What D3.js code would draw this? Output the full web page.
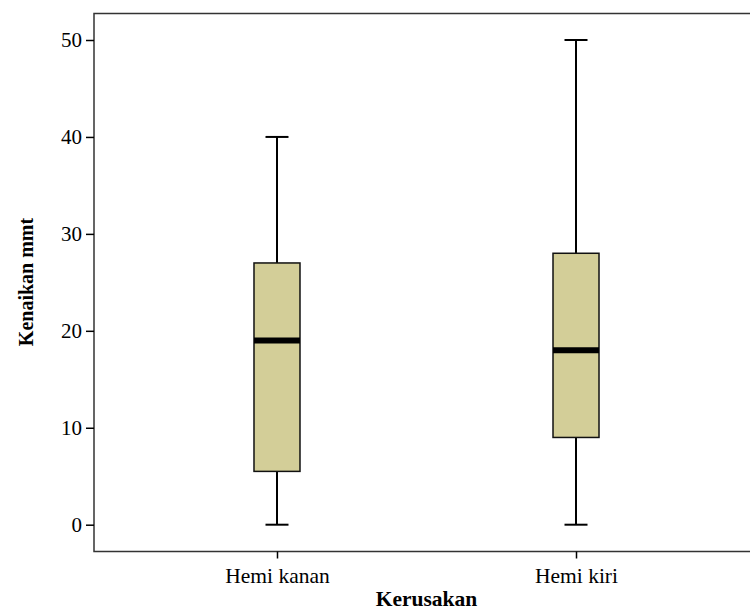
<!DOCTYPE html>
<html><head><meta charset="utf-8">
<script src="https://cdn.jsdelivr.net/npm/d3@7"></script>
<style>body{margin:0;background:#fff}svg{display:block}text{font-family:"Liberation Serif","Times New Roman",serif;fill:#000}</style>
</head><body>
<svg id="c" width="750" height="611"></svg>
<script>
const categories = ["Hemi kanan", "Hemi kiri"];
const mins = [0, 0];
const q1s = [5.5, 9];
const medians = [19, 18];
const q3s = [27, 28];
const maxs = [40, 50];
const yTicks = [0, 10, 20, 30, 40, 50];
const xTitle = "Kerusakan";
const yTitle = "Kenaikan mmt";

const FONT = "Liberation Serif, Times New Roman, serif";
const svg = d3.select("#c");
const L = 94, T = 13.5, R = 759, B = 551.5;
const y = d3.scaleLinear().domain([0, 50]).range([524.7, 40]);
const x = d3.scalePoint().domain(categories).range([L, R]).padding(0.612);
const bw = 46, cap = 23;

// frame
svg.append("path").attr("d", `M${R},${T}H${L}V${B}H${R}`).attr("fill","none").attr("stroke","#333").attr("stroke-width",1.5);

// y axis
const ya = svg.append("g").attr("transform", `translate(${L},0)`)
  .call(d3.axisLeft(y).tickValues(yTicks).tickSize(8).tickPadding(4).tickFormat(d3.format("d")))
  .attr("font-family", FONT);
ya.select(".domain").remove();
ya.selectAll("line").attr("stroke","#000").attr("stroke-width",1.5);
ya.selectAll("text").attr("font-size",21).attr("font-family",FONT);

// x axis
const xa = svg.append("g").attr("transform", `translate(0,${B})`)
  .call(d3.axisBottom(x).tickSize(7).tickPadding(9))
  .attr("font-family", FONT);
xa.select(".domain").remove();
xa.selectAll("line").attr("stroke","#000").attr("stroke-width",1.5);
xa.selectAll("text").attr("font-size",21.5).attr("font-family",FONT);

const data = categories.map((c,i)=>({c, min:mins[i], q1:q1s[i], med:medians[i], q3:q3s[i], max:maxs[i]}));
const g = svg.append("g").selectAll("g").data(data).join("g")
  .attr("transform", d=>`translate(${x(d.c)},0)`);
g.append("line").attr("x1",0).attr("x2",0).attr("y1",d=>y(d.max)).attr("y2",d=>y(d.q3)).attr("stroke","#000").attr("stroke-width",2);
g.append("line").attr("x1",0).attr("x2",0).attr("y1",d=>y(d.q1)).attr("y2",d=>y(d.min)).attr("stroke","#000").attr("stroke-width",2);
g.append("line").attr("x1",-cap/2).attr("x2",cap/2).attr("y1",d=>y(d.max)).attr("y2",d=>y(d.max)).attr("stroke","#000").attr("stroke-width",2);
g.append("line").attr("x1",-cap/2).attr("x2",cap/2).attr("y1",d=>y(d.min)).attr("y2",d=>y(d.min)).attr("stroke","#000").attr("stroke-width",2);
g.append("rect").attr("x",-bw/2).attr("width",bw).attr("y",d=>y(d.q3)).attr("height",d=>y(d.q1)-y(d.q3))
  .attr("fill","#d3ce98").attr("stroke","#111").attr("stroke-width",1.5);
g.append("line").attr("x1",-bw/2).attr("x2",bw/2).attr("y1",d=>y(d.med)).attr("y2",d=>y(d.med)).attr("stroke","#000").attr("stroke-width",6);

svg.append("text").attr("x",(x(categories[0])+x(categories[1]))/2).attr("y",606).attr("text-anchor","middle")
  .attr("font-family",FONT).attr("font-size",21.5).attr("font-weight","bold").text(xTitle);
svg.append("text").attr("transform","translate(26,282) rotate(-90)").attr("text-anchor","middle").attr("dominant-baseline","central")
  .attr("font-family",FONT).attr("font-size",20).attr("font-weight","bold").text(yTitle);
</script>
</body></html>
